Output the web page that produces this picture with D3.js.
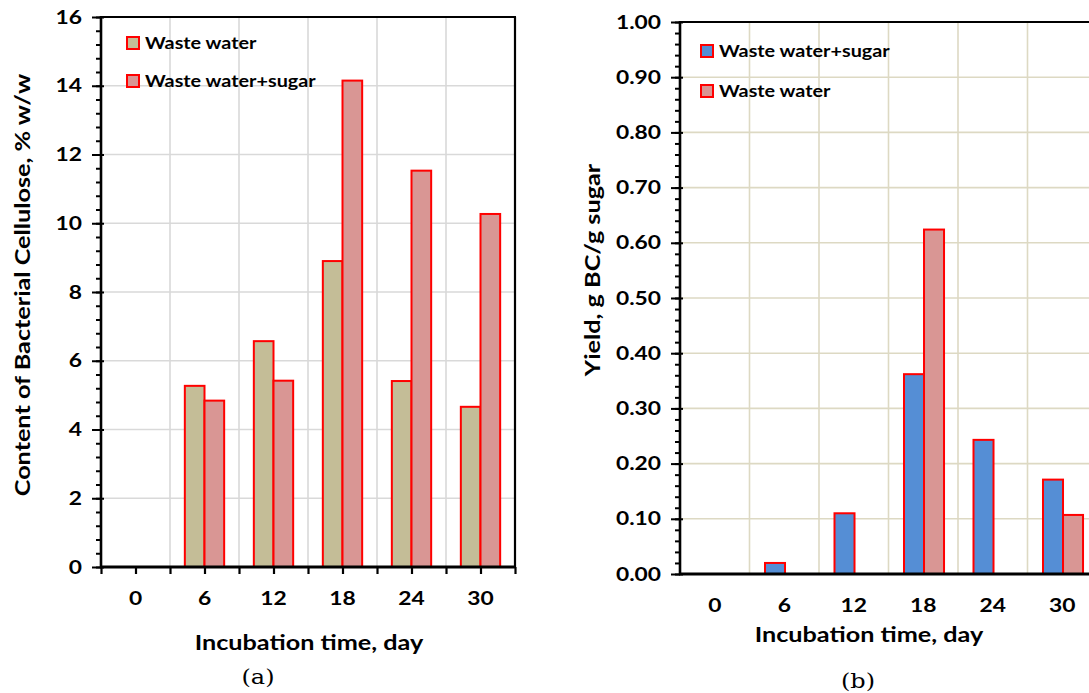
<!DOCTYPE html>
<html lang="en">
<head>
<meta charset="UTF-8">
<title>Bacterial cellulose</title>
<script src="https://d3js.org/d3.v7.min.js"></script>
<style>
  body { margin: 0; background: #fff; }
  svg { display: block; }
  text { font-family: Lato, "Open Sans", sans-serif; font-weight: bold; fill: #000; }
  .cap { font-family: "DejaVu Serif", "Liberation Serif", serif; font-weight: normal; }
</style>
</head>
<body>
<svg id="main" width="1089" height="693"></svg>
<script>
// data
const days = ["0", "6", "12", "18", "24", "30"];
// (a) content of bacterial cellulose, % w/w
const contentWaste = [0, 5.27, 6.57, 8.9, 5.41, 4.66];
const contentSugar = [0, 4.84, 5.42, 14.15, 11.53, 10.27];
// (b) yield, g BC / g sugar
const yieldSugar = [0, 0.02, 0.11, 0.362, 0.243, 0.171];
const yieldWaste = [0, 0, 0, 0.624, 0, 0.107];

const leftTicks = [0, 2, 4, 6, 8, 10, 12, 14, 16];
const rightTicks = [0, 0.1, 0.2, 0.3, 0.4, 0.5, 0.6, 0.7, 0.8, 0.9, 1.0];

const SX = 1.2; // the source lettering is wider than Lato
const svg = d3.select("#main");

// move x/y into a transform so the glyphs can be widened about their anchor
function stretch(sel, rot) {
  sel.each(function () {
    const t = d3.select(this);
    const x = +t.attr("x") || 0, y = +t.attr("y") || 0;
    t.attr("x", null).attr("y", null)
      .attr("transform", `translate(${x},${y})${rot ? " rotate(" + rot + ")" : ""} scale(${SX},1)`);
  });
}

function panel(o) {
  const g = svg.append("g");
  const x = d3.scaleBand().domain(days).range([o.x0, o.x1]);
  const bw = x.bandwidth();
  const xs = d3.scaleBand().domain([0, 1]).range([bw * o.g0, bw * o.g1]);
  const y = d3.scaleLinear().domain([0, o.max]).range([o.y0, o.y1]);

  // grid
  g.append("g").selectAll("line").data(o.ticks.slice(1))
    .join("line")
    .attr("x1", o.x0).attr("x2", o.x1)
    .attr("y1", d => y(d)).attr("y2", d => y(d))
    .attr("stroke", o.grid).attr("stroke-width", 1.6);
  g.append("g").selectAll("line").data(days.slice(1))
    .join("line")
    .attr("x1", d => x(d)).attr("x2", d => x(d))
    .attr("y1", o.y1).attr("y2", o.y0)
    .attr("stroke", o.grid).attr("stroke-width", 1.6);

  // bars
  o.series.forEach((s, si) => {
    g.append("g").selectAll("rect")
      .data(s.values.map((v, i) => ({ day: days[i], v })).filter(d => d.v > 0))
      .join("rect")
      .attr("x", d => x(d.day) + xs(si))
      .attr("width", xs.bandwidth())
      .attr("y", d => y(d.v))
      .attr("height", d => y(0) - y(d.v))
      .attr("fill", s.color)
      .attr("stroke", "#ff0000").attr("stroke-width", 2);
  });

  // frame
  g.append("line").attr("x1", o.x0).attr("x2", o.x1 + 1).attr("y1", o.y1).attr("y2", o.y1)
    .attr("stroke", "#000").attr("stroke-width", 2.2);
  g.append("line").attr("x1", o.x1).attr("x2", o.x1).attr("y1", o.y1).attr("y2", o.y0)
    .attr("stroke", "#000").attr("stroke-width", 2.2);

  // y axis: minor then major
  const minor = d3.range(0, o.max + o.minor / 2, o.minor);
  const ay = g.append("g").attr("transform", `translate(${o.x0},0)`)
    .call(d3.axisLeft(y).tickValues(minor).tickSize(5).tickFormat(""));
  ay.selectAll("line").attr("stroke-width", 2);
  const am = g.append("g").attr("transform", `translate(${o.x0},0)`)
    .call(d3.axisLeft(y).tickValues(o.ticks).tickSize(9).tickPadding(10).tickFormat(o.fmt));
  am.selectAll("line").attr("stroke-width", 2).attr("x2", -9).attr("x1", 3);
  am.selectAll("text").attr("font-size", 19).attr("font-family", "Lato").attr("font-weight", "bold")
    .attr("fill", "#000").call(stretch);
  am.selectAll(".domain").remove();
  ay.select(".domain").attr("stroke-width", 2.6).attr("d", `M0,${o.y0 + 1}V${o.y1 - 1}`);

  // x axis
  const ax = g.append("g").attr("transform", `translate(0,${o.y0})`)
    .call(d3.axisBottom(x).tickSize(0).tickPadding(o.xpad));
  ax.select(".domain").attr("stroke-width", 2.8).attr("d", `M${o.x0 - 1},0H${o.x1 + 1}`);
  ax.selectAll("text").attr("font-size", 19).attr("font-family", "Lato").attr("font-weight", "bold")
    .attr("fill", "#000").call(stretch);
  if (o.halfTicks) {
    const xl = d3.scaleLinear().domain([0, days.length * 2]).range([o.x0, o.x1]);
    const ah = g.append("g").attr("transform", `translate(0,${o.y0})`)
      .call(d3.axisBottom(xl).tickValues(d3.range(days.length * 2 + 1)).tickSize(7).tickFormat(""));
    ah.select(".domain").remove();
    ah.selectAll("line").attr("stroke-width", 2.2);
  }

  // titles
  g.append("text").attr("x", o.xtX).attr("y", o.xtY).attr("text-anchor", "middle")
    .attr("font-size", 21).text("Incubation time, day").call(stretch);
  g.append("text").attr("x", o.ytX).attr("y", o.ytY)
    .attr("text-anchor", "middle").attr("font-size", 21).text(o.ytitle).call(stretch, -90);
  g.append("text").attr("class", "cap").attr("x", o.capX).attr("y", o.capY)
    .attr("text-anchor", "middle").attr("font-size", 20).text(o.cap).call(stretch);

  // legend
  const lg = g.append("g").selectAll("g").data(o.legend).join("g")
    .attr("transform", (d, i) => `translate(${o.lgX},${o.lgY + i * o.lgStep})`);
  lg.append("rect").attr("x", 0).attr("y", -6).attr("width", 12).attr("height", 12)
    .attr("fill", d => d.color).attr("stroke", "#ff0000").attr("stroke-width", 2);
  lg.append("text").attr("x", 18).attr("y", 6).attr("font-size", 16.5).text(d => d.name).call(stretch);
}

const tan = "#c4bd97", pink = "#d99694", blue = "#558ed5";

panel({
  x0: 101, x1: 515, y0: 567, y1: 17, max: 16, minor: 0.4,
  ticks: leftTicks, fmt: d3.format("d"), grid: "#d9d9d9", g0: 0.215, g1: 0.785,
  series: [{ values: contentWaste, color: tan }, { values: contentSugar, color: pink }],
  halfTicks: true, xpad: 25,
  xtX: 309, xtY: 650, ytX: 30, ytY: 285, ytitle: "Content of Bacterial Cellulose, % w/w",
  capX: 258, capY: 684, cap: "(a)",
  legend: [{ name: "Waste water", color: tan }, { name: "Waste water+sugar", color: pink }],
  lgX: 127, lgY: 43, lgStep: 38
});

panel({
  x0: 680, x1: 1097, y0: 574, y1: 22, max: 1.0, minor: 0.02,
  ticks: rightTicks, fmt: d3.format(".2f"), grid: "#ddd9c3", g0: 0.223, g1: 0.799,
  series: [{ values: yieldSugar, color: blue }, { values: yieldWaste, color: pink }],
  halfTicks: false, xpad: 25,
  xtX: 869, xtY: 642, ytX: 600, ytY: 270, ytitle: "Yield, g BC/g sugar",
  capX: 858, capY: 688, cap: "(b)",
  legend: [{ name: "Waste water+sugar", color: blue }, { name: "Waste water", color: pink }],
  lgX: 701, lgY: 51, lgStep: 40
});
</script>
</body>
</html>
